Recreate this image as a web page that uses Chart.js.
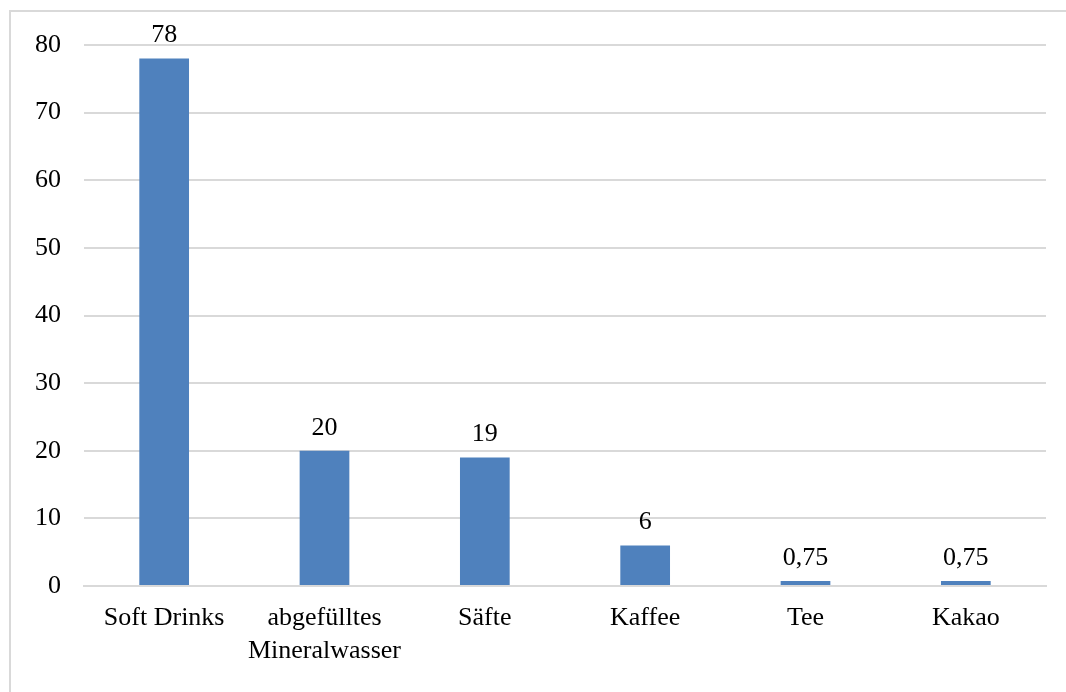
<!DOCTYPE html>
<html>
<head>
<meta charset="utf-8">
<script src="https://cdn.jsdelivr.net/npm/chart.js@4/dist/chart.umd.min.js"></script>
<style>
  html, body { margin: 0; padding: 0; background: #fff; }
  #wrap { position: relative; width: 1066px; height: 692px; }
</style>
</head>
<body>
<div id="wrap"><canvas id="barChart" width="1066" height="692"></canvas></div>
<script>
// Werte aus der Grafik
var KATEGORIEN = ["Soft Drinks", ["abgefülltes", "Mineralwasser"], "Säfte", "Kaffee", "Tee", "Kakao"];
var WERTE = [78, 20, 19, 6, 0.75, 0.75];
var Y_TICKS = [0, 10, 20, 30, 40, 50, 60, 70, 80];

var SCHRIFT = "'Liberation Serif', 'Times New Roman', serif";
var BLAU = "#4f81bd";
var GRAU = "#d9d9d9";

// Rahmen um das Diagramm
var rahmen = {
    id: 'rahmen',
    beforeDraw: function (chart) {
        var ctx = chart.ctx;
        ctx.save();
        ctx.strokeStyle = GRAU;
        ctx.lineWidth = 2;
        ctx.strokeRect(10, 11, 1080, 700);
        ctx.restore();
    }
};

// Werte über den Balken
var werteLabels = {
    id: 'werteLabels',
    afterDatasetsDraw: function (chart) {
        var ctx = chart.ctx;
        var meta = chart.getDatasetMeta(0);
        ctx.save();
        ctx.font = "26px " + SCHRIFT;
        ctx.fillStyle = "#000";
        ctx.textAlign = "center";
        ctx.textBaseline = "bottom";
        meta.data.forEach(function (bar, i) {
            var txt = String(WERTE[i]).replace('.', ',');
            ctx.fillText(txt, bar.x, bar.y - 10);
        });
        ctx.restore();
    }
};

var ctx = document.getElementById("barChart").getContext("2d");
var chart = new Chart(ctx, {
    type: 'bar',
    data: {
        labels: KATEGORIEN,
        datasets: [{
            data: WERTE,
            backgroundColor: BLAU,
            borderWidth: 0,
            categoryPercentage: 1,
            barPercentage: 0.31
        }]
    },
    options: {
        responsive: false,
        animation: false,
        layout: { padding: { left: 0, top: 45, right: 20, bottom: 0 } },
        plugins: {
            legend: { display: false },
            tooltip: { enabled: false }
        },
        scales: {
            x: {
                grid: { display: false, drawTicks: false },
                border: { color: GRAU, width: 2 },
                ticks: {
                    color: "#000",
                    font: { family: SCHRIFT, size: 26, lineHeight: 1.25 },
                    padding: 16,
                    maxRotation: 0,
                    autoSkip: false
                },
                afterFit: function (scale) { scale.height = 106; }
            },
            y: {
                min: 0,
                max: 80,
                afterBuildTicks: function (scale) {
                    scale.ticks = Y_TICKS.map(function (v) { return { value: v }; });
                },
                grid: { color: GRAU, lineWidth: 2, drawTicks: false },
                border: { display: false },
                ticks: {
                    color: "#000",
                    font: { family: SCHRIFT, size: 26 },
                    padding: 23
                },
                afterFit: function (scale) { scale.width = 84; }
            }
        }
    },
    plugins: [rahmen, werteLabels]
});
</script>
</body>
</html>
